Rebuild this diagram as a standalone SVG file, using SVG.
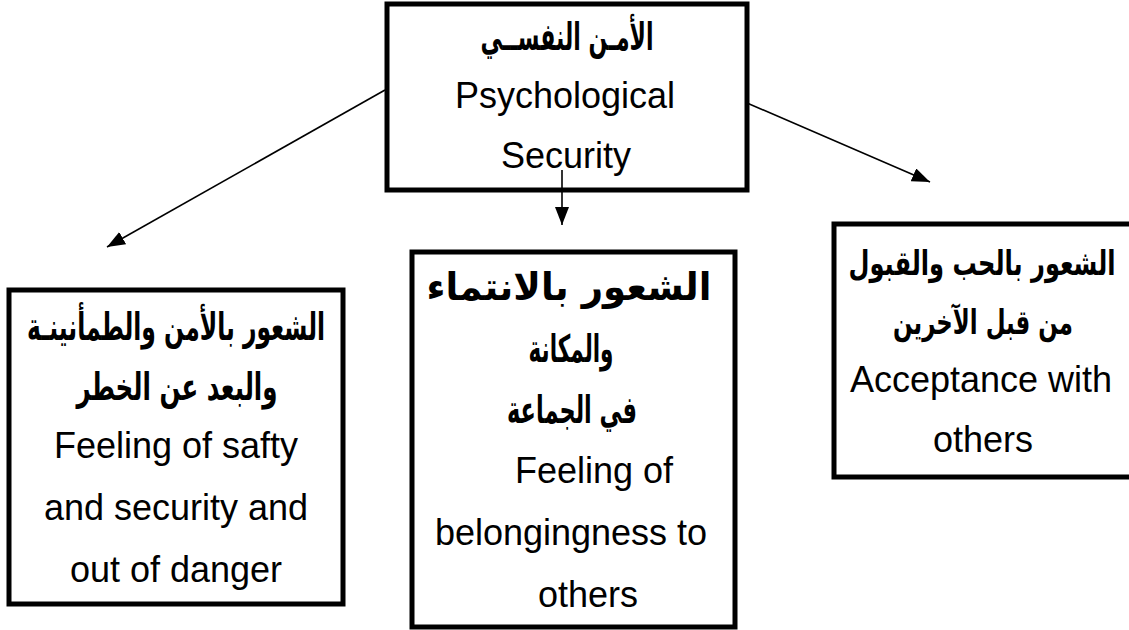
<svg xmlns="http://www.w3.org/2000/svg" width="1129" height="630" viewBox="0 0 1129 630">
<defs>
<marker id="ah" viewBox="0 0 18 14" refX="18" refY="7" markerWidth="18" markerHeight="14" markerUnits="userSpaceOnUse" orient="auto">
<path d="M0,0 L18,7 L0,14 Z" fill="#000"/>
</marker>
<style>
.box{fill:#fff;stroke:#000;stroke-width:5}
.ar{font-family:"DejaVu Sans",sans-serif;font-weight:bold;font-size:38px;fill:#000;text-anchor:middle}
.ars{font-size:34px}
.en{font-family:"Liberation Sans",Arial,sans-serif;font-size:36px;fill:#000;text-anchor:middle}
.ln{stroke:#000;stroke-width:1.6;fill:none}
</style>
</defs>
<rect width="1129" height="630" fill="#fff"/>
<g id="node-top">
<rect class="box" x="387" y="4" width="360" height="186"/>
<text class="ar" x="567" y="50" textLength="173" lengthAdjust="spacingAndGlyphs">الأمـن النفســي</text>
<text class="en" x="565" y="108">Psychological</text>
<text class="en" x="566" y="168">Security</text>
</g>
<g id="node-left">
<rect class="box" x="9" y="290" width="334" height="314"/>
<text class="ar" x="176" y="340" textLength="298" lengthAdjust="spacingAndGlyphs">الشعور بالأمن والطمأنينـة</text>
<text class="ar" x="177" y="400" textLength="201" lengthAdjust="spacingAndGlyphs">والبعد عن الخطر</text>
<text class="en" x="176" y="458">Feeling of safty</text>
<text class="en" x="176" y="520">and security and</text>
<text class="en" x="176" y="582">out of danger</text>
</g>
<g id="node-middle">
<rect class="box" x="412" y="252" width="323" height="375"/>
<text class="ar" x="569" y="300" textLength="285" lengthAdjust="spacingAndGlyphs">الشعور بالانتماء</text>
<text class="ar" x="571" y="362" textLength="85" lengthAdjust="spacingAndGlyphs">والمكانة</text>
<text class="ar" x="572" y="423" textLength="130" lengthAdjust="spacingAndGlyphs">في الجماعة</text>
<text class="en" x="594" y="483">Feeling of</text>
<text class="en" x="571" y="545">belongingness to</text>
<text class="en" x="588" y="607">others</text>
</g>
<g id="node-right">
<rect class="box" x="834" y="224" width="310" height="253"/>
<text class="ar ars" x="982" y="275" textLength="267" lengthAdjust="spacingAndGlyphs">الشعور بالحب والقبول</text>
<text class="ar ars" x="983" y="334" textLength="180" lengthAdjust="spacingAndGlyphs">من قبل الآخرين</text>
<text class="en" x="981" y="392">Acceptance with</text>
<text class="en" x="983" y="452">others</text>
</g>
<g id="connectors">
<line class="ln" x1="385" y1="90" x2="107" y2="247" marker-end="url(#ah)"/>
<line class="ln" x1="562" y1="170" x2="562" y2="225" marker-end="url(#ah)"/>
<line class="ln" x1="747" y1="103" x2="930" y2="182" marker-end="url(#ah)"/>
</g>
</svg>
